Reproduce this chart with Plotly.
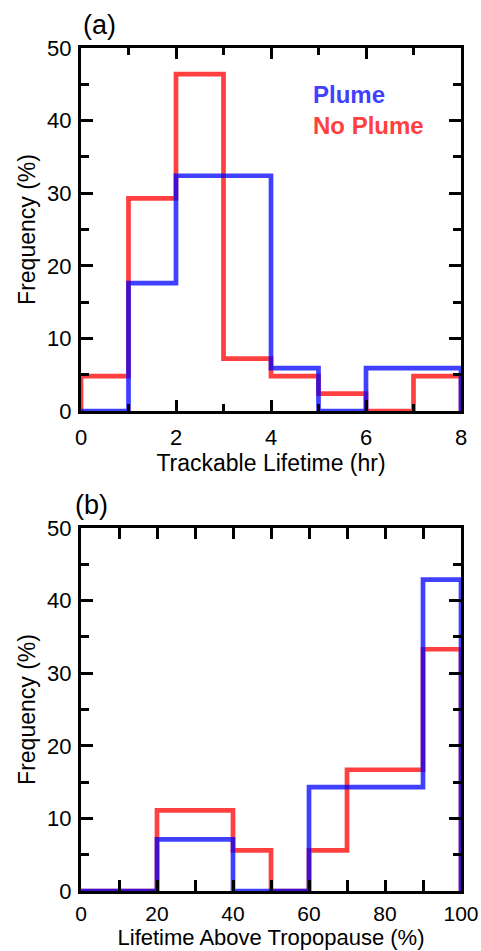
import plotly.graph_objects as go

# Panel (a): Trackable lifetime (hr), 1-hr bins from 0 to 8
lifetime_edges = [0, 1, 2, 3, 4, 5, 6, 7, 8]
lifetime_plume = [0.0, 17.6, 32.4, 32.4, 5.9, 0.0, 5.9, 5.9]
lifetime_noplume = [4.8, 29.3, 46.4, 7.2, 4.8, 2.4, 0.0, 4.8]

# Panel (b): Lifetime above tropopause (%), 10% bins from 0 to 100
above_edges = [0, 10, 20, 30, 40, 50, 60, 70, 80, 90, 100]
above_plume = [0.0, 0.0, 7.1, 7.1, 0.0, 0.0, 14.3, 14.3, 14.3, 42.9]
above_noplume = [0.0, 0.0, 11.1, 11.1, 5.6, 0.0, 5.6, 16.7, 16.7, 33.3]

BLUE = "rgba(0,0,255,0.75)"
RED = "rgba(255,0,0,0.75)"
FONT = "Liberation Sans, Arial, Helvetica, sans-serif"


def step_xy(edges, vals):
    xs = [edges[0]] + list(edges[:-1]) + [edges[-1], edges[-1]]
    ys = [0] + list(vals) + [vals[-1], 0]
    return xs, ys


fig = go.Figure()

for edges, vals, color, xa, ya in [
    (lifetime_edges, lifetime_noplume, RED, "x", "y"),
    (lifetime_edges, lifetime_plume, BLUE, "x", "y"),
    (above_edges, above_noplume, RED, "x2", "y2"),
    (above_edges, above_plume, BLUE, "x2", "y2"),
]:
    xs, ys = step_xy(edges, vals)
    fig.add_trace(go.Scatter(x=xs, y=ys, mode="lines", line=dict(color=color, width=4.7, shape="hv"),
                             xaxis=xa, yaxis=ya, showlegend=False, cliponaxis=False, hoverinfo="skip"))

axis_common = dict(showline=True, linecolor="black", linewidth=3, mirror="ticks", ticks="inside",
                   tickwidth=2.5, tickcolor="black", showgrid=False, zeroline=False, automargin=False,
                   tickfont=dict(family=FONT, size=22, color="black"),
                   title_font=dict(family=FONT, size=23, color="black"))

fig.update_layout(
    width=481, height=951,
    margin=dict(l=81, r=20, t=48, b=60),
    plot_bgcolor="white", paper_bgcolor="white",
    font=dict(family=FONT, size=22, color="black"),
    xaxis=dict(axis_common, domain=[0, 1], anchor="y", range=[0, 8], dtick=2, tick0=0, ticklen=11,
               ticklabelstandoff=5,
               minor=dict(dtick=1, ticks="inside", ticklen=7, tickwidth=2.5, tickcolor="black"),
               title=dict(text="Trackable Lifetime (hr)", standoff=2)),
    yaxis=dict(axis_common, domain=[0.5694, 1], anchor="x", range=[0, 50], dtick=10, tick0=0, ticklen=12,
               ticklabelstandoff=2,
               minor=dict(dtick=5, ticks="inside", ticklen=8, tickwidth=2.5, tickcolor="black"),
               title=dict(text="Frequency (%)", standoff=6)),
    xaxis2=dict(axis_common, domain=[0, 1], anchor="y2", range=[0, 100], dtick=20, tick0=0, ticklen=11,
                ticklabelstandoff=2, tickfont=dict(family=FONT, size=21, color="black"),
                minor=dict(dtick=10, ticks="inside", ticklen=11, tickwidth=2.5, tickcolor="black"),
                title=dict(text="Lifetime Above Tropopause (%)", standoff=4,
                           font=dict(family=FONT, size=22, color="black"))),
    yaxis2=dict(axis_common, domain=[0, 0.4306], anchor="x2", range=[0, 50], dtick=10, tick0=0, ticklen=12,
                ticklabelstandoff=2,
                minor=dict(dtick=5, ticks="inside", ticklen=8, tickwidth=2.5, tickcolor="black"),
                title=dict(text="Frequency (%)", standoff=6)),
    annotations=[
        dict(text="(a)", xref="paper", yref="paper", x=0, y=1.0, yshift=6, xanchor="left", yanchor="bottom",
             showarrow=False, font=dict(family=FONT, size=27, color="black")),
        dict(text="(b)", xref="paper", yref="paper", x=-0.02, y=0.4306, yshift=6, xanchor="left", yanchor="bottom",
             showarrow=False, font=dict(family=FONT, size=27, color="black")),
        dict(text="<b>Plume</b>", xref="x", yref="y", x=4.85, y=43.6, xanchor="left", yanchor="middle",
             showarrow=False, font=dict(family=FONT, size=24, color="#4040ff")),
        dict(text="<b>No Plume</b>", xref="x", yref="y", x=4.85, y=39.3, xanchor="left", yanchor="middle",
             showarrow=False, font=dict(family=FONT, size=24, color="#ff4040")),
    ],
)

fig.write_html("out.html")
